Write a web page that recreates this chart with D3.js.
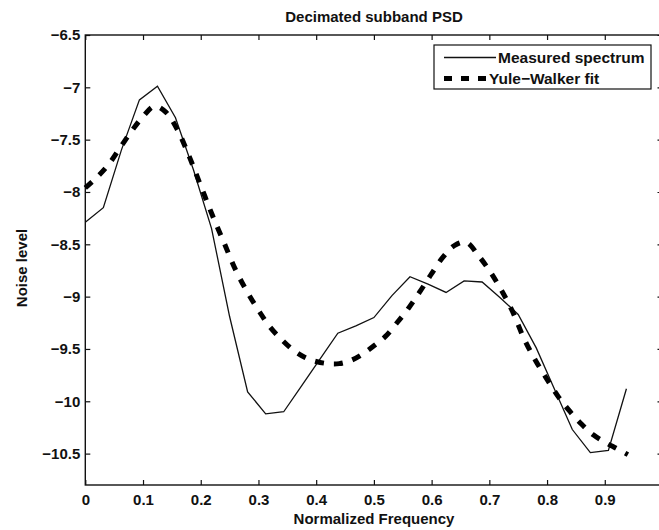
<!DOCTYPE html>
<meta charset="utf-8">
<style>
body { margin: 0; background: #fff; }
text { font-family: "Liberation Sans", Arial, sans-serif; fill: #111; }
.axis text { font-size: 15px; font-weight: bold; }
.axis path { display: none; }
.axis line { stroke: #111; stroke-width: 1.2px; }
</style>
<body>
<svg width="659" height="530"></svg>
</body>
<script src="https://d3js.org/d3.v7.min.js"></script>
<script>

// measured spectrum, sampled at k/32
var measFreq = d3.range(31).map(function(k) { return k / 32; });
var measValues = [-8.29, -8.15, -7.60, -7.12, -6.99, -7.29, -7.79, -8.35, -9.19, -9.91,
                  -10.12, -10.10, -9.85, -9.60, -9.35, -9.28, -9.20, -8.99, -8.81, -8.88,
                  -8.96, -8.85, -8.86, -9.01, -9.17, -9.49, -9.88, -10.27, -10.49, -10.47,
                  -9.88];

// yule-walker fit
var fitFreq = [0, 0.02, 0.04, 0.06, 0.08, 0.10, 0.12, 0.14, 0.16, 0.18,
               0.20, 0.22, 0.24, 0.26, 0.28, 0.30, 0.32, 0.34, 0.36, 0.38,
               0.40, 0.42, 0.44, 0.46, 0.48, 0.50, 0.52, 0.54, 0.56, 0.58,
               0.60, 0.62, 0.64, 0.66, 0.68, 0.70, 0.72, 0.74, 0.76, 0.78,
               0.80, 0.82, 0.84, 0.86, 0.88, 0.90, 0.92, 0.94];
var fitValues = [-7.96, -7.86, -7.74, -7.58, -7.42, -7.28, -7.18, -7.24, -7.41, -7.66,
                 -7.94, -8.22, -8.48, -8.74, -8.95, -9.13, -9.29, -9.41, -9.51, -9.58,
                 -9.62, -9.64, -9.64, -9.61, -9.55, -9.47, -9.38, -9.25, -9.11, -8.95,
                 -8.78, -8.62, -8.51, -8.48, -8.60, -8.75, -8.93, -9.14, -9.40, -9.61,
                 -9.79, -9.96, -10.10, -10.22, -10.32, -10.39, -10.45, -10.51];

var xTicks = [0, 0.1, 0.2, 0.3, 0.4, 0.5, 0.6, 0.7, 0.8, 0.9];
var xTickLabels = ["0", "0.1", "0.2", "0.3", "0.4", "0.5", "0.6", "0.7", "0.8", "0.9"];
var yTicks = [-6.5, -7, -7.5, -8, -8.5, -9, -9.5, -10, -10.5];
var yTickLabels = ["\u22126.5", "\u22127", "\u22127.5", "\u22128", "\u22128.5", "\u22129", "\u22129.5", "\u221210", "\u221210.5"];
var seriesNames = ["Measured spectrum", "Yule\u2212Walker fit"];

var svg = d3.select("svg"),
    margin = {top: 35, right: -3.5, bottom: 45, left: 85.3},
    width = svg.attr("width") - margin.left - margin.right,
    height = svg.attr("height") - margin.top - margin.bottom,
    g = svg.append("g").attr("transform", "translate(" + margin.left + "," + margin.top + ")");

var x = d3.scaleLinear().domain([0, 1]).range([0, width]);
var y = d3.scaleLinear().domain([-10.8, -6.5]).range([height, 0]);

// axes, ticks inward like matlab
g.append("g").attr("class", "axis")
    .attr("transform", "translate(0," + height + ")")
    .call(d3.axisBottom(x).tickValues(xTicks).tickSizeInner(-5).tickSizeOuter(0).tickPadding(9)
      .tickFormat(function(d, i) { return xTickLabels[i]; }));
g.append("g").attr("class", "axis")
    .call(d3.axisTop(x).tickValues(xTicks).tickSizeInner(-5).tickSizeOuter(0).tickFormat(""));
g.append("g").attr("class", "axis")
    .call(d3.axisLeft(y).tickValues(yTicks).tickSizeInner(-5).tickSizeOuter(0).tickPadding(5)
      .tickFormat(function(d, i) { return yTickLabels[i]; }));
g.append("g").attr("class", "axis")
    .attr("transform", "translate(" + width + ",0)")
    .call(d3.axisRight(y).tickValues(yTicks).tickSizeInner(-5).tickSizeOuter(0).tickFormat(""));

g.append("rect")
    .attr("width", width).attr("height", height)
    .attr("fill", "none").attr("stroke", "#111").attr("stroke-width", 1.4);

var measLine = d3.line()
    .x(function(d, i) { return x(measFreq[i]); })
    .y(function(d) { return y(d); });

var fitLine = d3.line()
    .x(function(d, i) { return x(fitFreq[i]); })
    .y(function(d) { return y(d); })
    .curve(d3.curveCatmullRom);

g.append("path")
    .datum(measValues)
    .attr("d", measLine)
    .attr("fill", "none").attr("stroke", "#111").attr("stroke-width", 1.3);

g.append("path")
    .datum(fitValues)
    .attr("d", fitLine)
    .attr("fill", "none").attr("stroke", "#000").attr("stroke-width", 5)
    .attr("stroke-dasharray", "9,10");

// title and labels
svg.append("text")
    .attr("x", 374).attr("y", 21.5)
    .attr("text-anchor", "middle")
    .style("font-size", "15px").style("font-weight", "bold")
    .text("Decimated subband PSD");

svg.append("text")
    .attr("x", 374).attr("y", 523.5)
    .attr("text-anchor", "middle")
    .style("font-size", "15px").style("font-weight", "bold")
    .text("Normalized Frequency");

svg.append("text")
    .attr("transform", "translate(27,268) rotate(-90)")
    .attr("text-anchor", "middle")
    .style("font-size", "15px").style("font-weight", "bold")
    .text("Noise level");

// legend
var legend = svg.append("g");
legend.append("rect")
    .attr("x", 434).attr("y", 45).attr("width", 217).attr("height", 44)
    .attr("fill", "#fff").attr("stroke", "#111").attr("stroke-width", 1.2);
legend.append("line")
    .attr("x1", 444).attr("x2", 496).attr("y1", 57.5).attr("y2", 57.5)
    .attr("stroke", "#111").attr("stroke-width", 1.3);
legend.append("line")
    .attr("x1", 444).attr("x2", 488).attr("y1", 78.5).attr("y2", 78.5)
    .attr("stroke", "#000").attr("stroke-width", 5).attr("stroke-dasharray", "8,9");
legend.append("text")
    .attr("x", 498).attr("y", 63)
    .style("font-size", "15.5px").style("font-weight", "bold")
    .text(seriesNames[0]);
legend.append("text")
    .attr("x", 489).attr("y", 84)
    .style("font-size", "15.5px").style("font-weight", "bold")
    .text(seriesNames[1]);

</script>
